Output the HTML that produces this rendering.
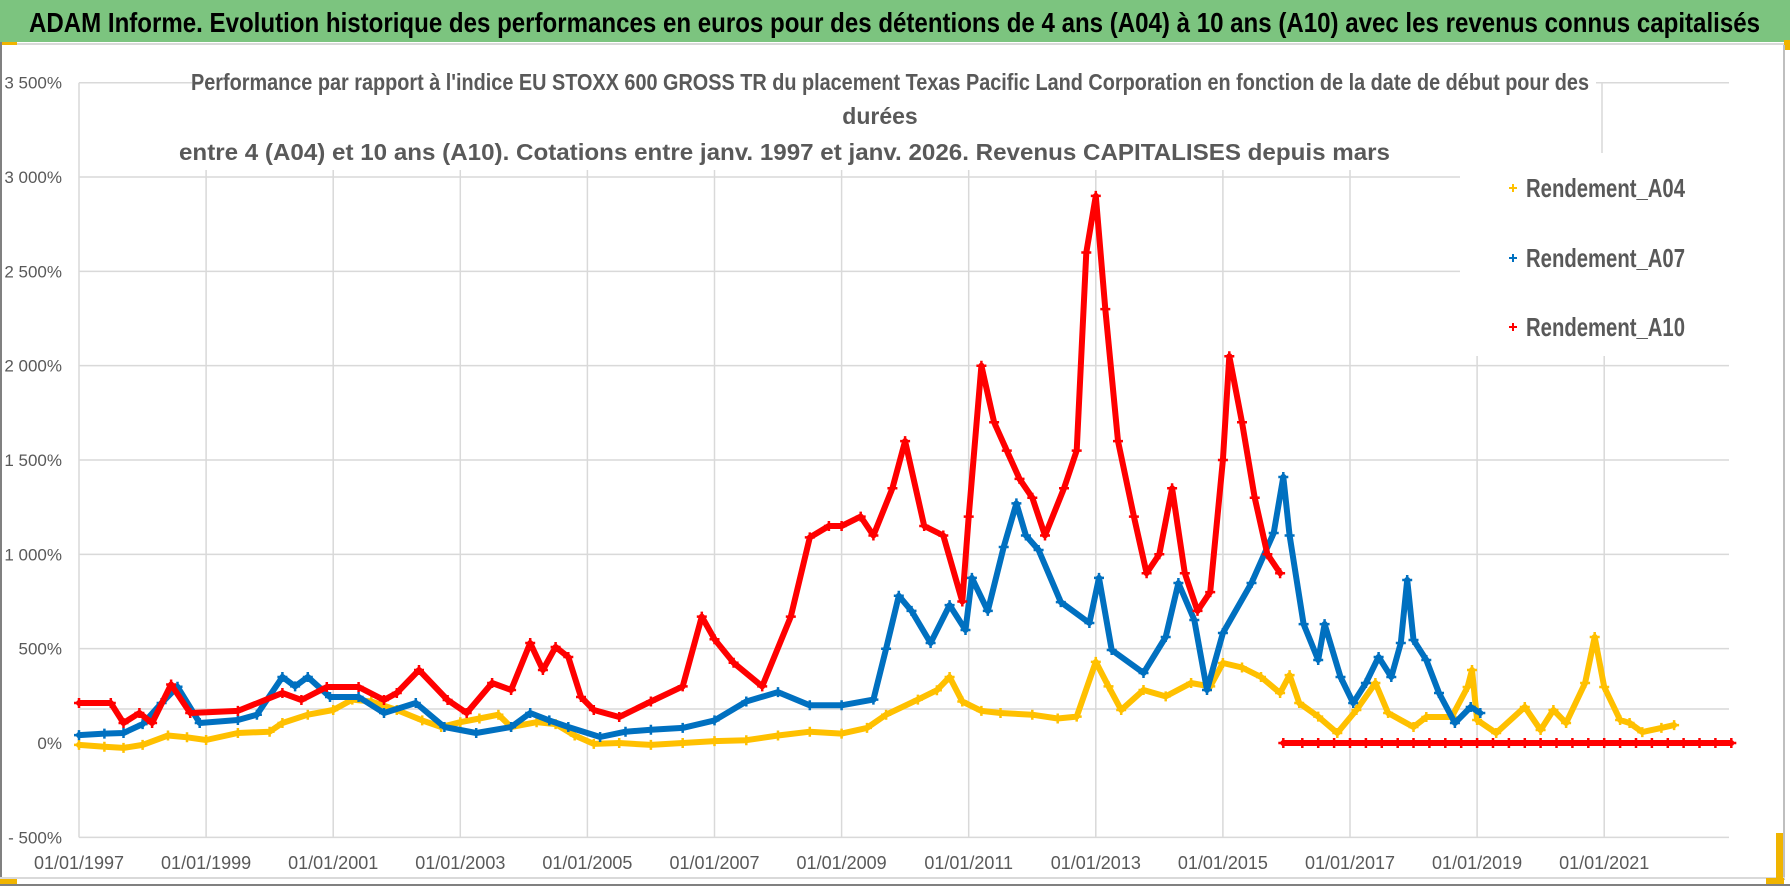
<!DOCTYPE html>
<html><head><meta charset="utf-8"><style>
html,body{margin:0;padding:0;background:#fff;}
svg{display:block;}
text{font-family:"Liberation Sans Narrow","Liberation Sans",sans-serif;}
</style></head><body>
<svg id="chart" width="1790" height="886" viewBox="0 0 1790 886" xmlns="http://www.w3.org/2000/svg">
  <rect x="0" y="0" width="1790" height="886" fill="#fff"/>
  <rect x="0" y="0" width="1790" height="42" fill="#7cc47f"/>
  <rect x="0" y="43" width="1790" height="2" fill="#d9d9d9"/>
  <rect x="0" y="42" width="17" height="3" fill="#f0b400"/>
  <rect x="1784" y="40" width="6" height="10" fill="#f0b400"/>
  <rect x="0" y="42" width="2" height="844" fill="#808080"/>
  <rect x="1783" y="45" width="2" height="835" fill="#bfbfbf"/>
  <rect x="0" y="877" width="1785" height="2" fill="#d9d9d9"/>
  <rect x="0" y="884" width="1790" height="2" fill="#808080"/>
  <rect x="0" y="879" width="17" height="5" fill="#f0b400"/>
  <rect x="1776" y="833" width="7" height="50" fill="#f0b400"/>
  <rect x="1766" y="878" width="18" height="6" fill="#f0b400"/>
  <text x="29" y="32" font-size="28" font-weight="bold" fill="#000" textLength="1731" lengthAdjust="spacingAndGlyphs">ADAM Informe. Evolution historique des performances en euros pour des détentions de 4 ans (A04) à 10 ans (A10) avec les revenus connus capitalisés</text>
  <g id="grid"></g>
  <g id="series"></g>
  <rect x="1460" y="166" width="269" height="190" fill="#fff"/>
  <rect x="192" y="60" width="1400" height="106" fill="#fff"/>
  <text x="191" y="90" font-size="23" font-weight="bold" fill="#595959" textLength="1398" lengthAdjust="spacingAndGlyphs">Performance par rapport à l'indice EU STOXX 600 GROSS TR  du placement Texas Pacific Land Corporation en fonction de la date de début pour des</text>
  <text x="880" y="124" font-size="23" font-weight="bold" fill="#595959" text-anchor="middle">durées</text>
  <text x="179" y="160" font-size="23" font-weight="bold" fill="#595959" textLength="1211" lengthAdjust="spacingAndGlyphs">entre 4 (A04) et 10 ans (A10).  Cotations entre janv. 1997 et janv. 2026. Revenus CAPITALISES  depuis mars</text>
  <g id="yaxis"></g>
  <g id="xaxis"></g>
  <g>
    <g>
      <path d="M1509 188h8M1513 184v8" stroke="#FFC000" stroke-width="2"/>
      <text x="1526" y="197" font-size="26" font-weight="bold" fill="#595959" textLength="159" lengthAdjust="spacingAndGlyphs">Rendement_A04</text>
    </g>
    <g>
      <path d="M1509 258h8M1513 254v8" stroke="#0070C0" stroke-width="2"/>
      <text x="1526" y="267" font-size="26" font-weight="bold" fill="#595959" textLength="159" lengthAdjust="spacingAndGlyphs">Rendement_A07</text>
    </g>
    <g>
      <path d="M1509 327h8M1513 323v8" stroke="#FF0000" stroke-width="2"/>
      <text x="1526" y="336" font-size="26" font-weight="bold" fill="#595959" textLength="159" lengthAdjust="spacingAndGlyphs">Rendement_A10</text>
    </g>
  </g>
</svg>
<script>
const yTicks = [3500, 3000, 2500, 2000, 1500, 1000, 500, 0, -500];
const yTickLabels = ["3 500%", "3 000%", "2 500%", "2 000%", "1 500%", "1 000%", "500%", "0%", "- 500%"];
const xTicks = [1997, 1999, 2001, 2003, 2005, 2007, 2009, 2011, 2013, 2015, 2017, 2019, 2021];
const xTickLabels = ["01/01/1997","01/01/1999","01/01/2001","01/01/2003","01/01/2005","01/01/2007","01/01/2009","01/01/2011","01/01/2013","01/01/2015","01/01/2017","01/01/2019","01/01/2021"];

const a04Dates = [1997.0,1997.4,1997.7,1998.0,1998.4,1998.7,1999.0,1999.5,2000.0,2000.2,2000.6,2001.0,2001.3,2001.6,2002.0,2002.4,2002.7,2003.0,2003.3,2003.6,2003.8,2004.2,2004.5,2004.8,2005.1,2005.5,2006.0,2006.5,2007.0,2007.5,2008.0,2008.5,2009.0,2009.4,2009.7,2010.2,2010.5,2010.7,2010.9,2011.2,2011.5,2012.0,2012.4,2012.7,2013.0,2013.2,2013.4,2013.75,2014.1,2014.5,2014.8,2015.0,2015.3,2015.6,2015.9,2016.05,2016.2,2016.5,2016.8,2017.1,2017.4,2017.6,2018.0,2018.2,2018.6,2018.85,2018.92,2019.0,2019.3,2019.75,2020.0,2020.2,2020.4,2020.7,2020.85,2021.0,2021.25,2021.4,2021.6,2021.9,2022.1];
const a04Values = [-10,-20,-26,-10,40,30,16,53,60,106,150,175,230,220,175,120,85,110,130,150,85,110,100,40,-5,0,-10,0,10,15,40,60,50,80,150,230,280,350,220,170,159,150,130,140,430,300,175,281,247,318,300,424,400,350,265,360,212,140,53,175,318,159,85,138,138,297,387,122,53,191,69,175,106,318,562,297,122,106,58,80,95];

const a07Dates = [1997.0,1997.4,1997.7,1998.0,1998.3,1998.55,1998.9,1999.5,1999.8,2000.2,2000.4,2000.6,2000.95,2001.4,2001.8,2002.3,2002.75,2003.25,2003.8,2004.1,2004.4,2004.7,2005.2,2005.6,2006.0,2006.5,2007.0,2007.5,2008.0,2008.5,2009.0,2009.5,2009.7,2009.9,2010.1,2010.4,2010.7,2010.95,2011.05,2011.3,2011.55,2011.75,2011.9,2012.1,2012.45,2012.9,2013.05,2013.25,2013.75,2014.1,2014.3,2014.55,2014.75,2015.0,2015.45,2015.8,2015.95,2016.05,2016.27,2016.5,2016.6,2016.85,2017.05,2017.25,2017.45,2017.65,2017.8,2017.9,2018.0,2018.2,2018.4,2018.65,2018.9,2019.05];
const a07Values = [42,50,53,100,212,298,106,122,150,350,300,350,244,244,159,212,85,53,85,159,120,85,32,60,70,80,120,220,270,200,200,230,500,780,700,530,731,599,875,700,1039,1270,1100,1023,747,636,875,493,371,562,848,652,281,583,848,1113,1410,1100,630,440,630,350,212,318,456,350,530,864,546,440,265,106,191,159];

const a10Dates = [1997.0,1997.5,1997.7,1997.95,1998.15,1998.45,1998.75,1999.5,2000.2,2000.5,2000.9,2001.4,2001.8,2002.0,2002.35,2002.8,2003.1,2003.5,2003.8,2004.1,2004.3,2004.5,2004.7,2004.9,2005.1,2005.5,2006.0,2006.5,2006.8,2007.0,2007.3,2007.75,2008.2,2008.5,2008.8,2009.0,2009.3,2009.5,2009.8,2010.0,2010.3,2010.6,2010.9,2011.0,2011.2,2011.4,2011.6,2011.8,2012.0,2012.2,2012.5,2012.7,2012.85,2013.0,2013.15,2013.35,2013.6,2013.8,2014.0,2014.2,2014.4,2014.6,2014.8,2015.0,2015.1,2015.3,2015.5,2015.7,2015.9,2015.93,2015.95,2016.25,2016.5,2016.75,2017.0,2017.25,2017.5,2017.75,2018.0,2018.25,2018.5,2018.75,2019.0,2019.25,2019.5,2019.75,2020.0,2020.25,2020.5,2020.75,2021.0,2021.25,2021.5,2021.75,2022.0,2022.25,2022.5,2022.75,2023.0];
const a10Values = [212,212,106,159,106,310,159,170,265,228,297,297,228,265,387,228,159,318,281,530,387,509,456,244,175,138,220,300,670,550,425,300,670,1090,1150,1150,1200,1100,1350,1600,1150,1100,750,1200,2000,1700,1550,1400,1300,1100,1350,1550,2600,2900,2300,1600,1200,900,1000,1350,900,700,800,1500,2050,1700,1300,1000,900,null,0,0,0,0,0,0,0,0,0,0,0,0,0,0,0,0,0,0,0,0,0,0,0,0,0,0,0,0,0];

const NS = "http://www.w3.org/2000/svg";
function xS(t){ return 79 + (t - 1997) * 63.55; }
function yS(v){ return 743 - v * 0.18866; }
function mk(tag, attrs, parent){
  const e = document.createElementNS(NS, tag);
  for (const k in attrs) e.setAttribute(k, attrs[k]);
  parent.appendChild(e);
  return e;
}
const grid = document.getElementById('grid');
// horizontal gridlines
yTicks.forEach(function(v){
  if (v === 0) return;
  const y = yS(v);
  let x1 = 79, x2 = 1729;
  if (v === 3500) {
    const a = mk('line', {x1:79, x2:192, y1:y, y2:y, stroke:'#d9d9d9','stroke-width':1.5}, grid);
    
    
    x1 = 1596;
  }
  const l = mk('line', {x1:x1, x2:x2, y1:y, y2:y, stroke:'#d9d9d9','stroke-width':1.5}, grid);
  
  
});
const ref = mk('line', {x1:79, x2:1729, y1:709, y2:709, stroke:'#d9d9d9','stroke-width':1.5}, grid);


const ax = mk('line', {x1:79, x2:79, y1:yS(3500), y2:yS(-500), stroke:'#d9d9d9','stroke-width':1.5}, grid);


const vs = mk('line', {x1:1602, x2:1602, y1:yS(3500), y2:153, stroke:'#d9d9d9','stroke-width':1.5}, grid);


xTicks.forEach(function(t){
  if (t === 1997) return;
  const x = xS(t);
  const l = mk('line', {x1:x, x2:x, y1:170, y2:yS(-500), stroke:'#d9d9d9','stroke-width':1.5}, grid);
  
  
});

// axes labels
const yax = document.getElementById('yaxis');
yTicks.forEach(function(v, i){
  const t = mk('text', {x:62, y:yS(v)+6, 'font-size':17, fill:'#595959', 'text-anchor':'end'}, yax);
  t.textContent = yTickLabels[i];
  
  
});
const xax = document.getElementById('xaxis');
xTicks.forEach(function(tk, i){
  const t = mk('text', {x:xS(tk), y:869, 'font-size':18, fill:'#595959', 'text-anchor':'middle'}, xax);
  t.textContent = xTickLabels[i];
  
  
});

// series
const layer = document.getElementById('series');
function drawSeries(dates, values, color, name){
  const g = mk('g', {}, layer);
  
  
  let seg = [];
  const segs = [];
  for (let i = 0; i < dates.length; i++){
    if (values[i] === null) { if (seg.length) segs.push(seg); seg = []; continue; }
    seg.push([xS(dates[i]), yS(values[i])]);
  }
  if (seg.length) segs.push(seg);
  segs.forEach(function(s){
    const p = mk('polyline', {points: s.map(function(q){return q[0].toFixed(1)+','+q[1].toFixed(1);}).join(' '),
      fill:'none', stroke:color, 'stroke-width':6, 'stroke-linejoin':'round', 'stroke-linecap':'round'}, g);
    
    
  });
  let d = '';
  for (let i = 0; i < dates.length; i++){
    if (values[i] === null) continue;
    const x = xS(dates[i]), y = yS(values[i]);
    d += 'M' + (x-5).toFixed(1) + ' ' + y.toFixed(1) + 'h10M' + x.toFixed(1) + ' ' + (y-5).toFixed(1) + 'v10';
  }
  const m = mk('path', {d:d, stroke:color, 'stroke-width':2.5, fill:'none'}, g);
  
  
}
drawSeries(a04Dates, a04Values, '#FFC000', 'series-a04');
drawSeries(a07Dates, a07Values, '#0070C0', 'series-a07');
drawSeries(a10Dates, a10Values, '#FF0000', 'series-a10');
</script>
</body></html>
